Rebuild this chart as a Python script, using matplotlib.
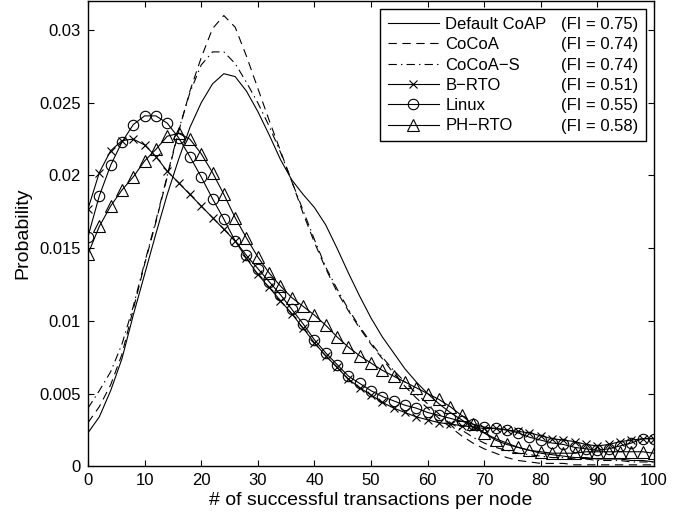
import matplotlib
matplotlib.use("Agg")
import matplotlib.pyplot as plt
from matplotlib.lines import Line2D
import numpy as np

plt.rcParams['font.family'] = ['Liberation Sans', 'DejaVu Sans']
plt.rcParams['lines.scale_dashes'] = False

x = list(range(0, 101, 2))

default_coap = [0.0023, 0.0034, 0.0052, 0.0074, 0.0104, 0.0132, 0.0160, 0.0187, 0.0211, 0.0233,
                0.0250, 0.0263, 0.0270, 0.0268, 0.0258, 0.0244, 0.0228, 0.0211, 0.0197, 0.0187,
                0.0178, 0.0166, 0.0150, 0.0133, 0.0117, 0.0102, 0.0089, 0.0078, 0.0067, 0.0058,
                0.0050, 0.0043, 0.0037, 0.0032, 0.0027, 0.0023, 0.0019, 0.0016, 0.0013, 0.0011,
                0.0009, 0.0008, 0.0007, 0.0006, 0.0006, 0.0005, 0.0005, 0.0005, 0.0004, 0.0004,
                0.0003]

cocoa = [0.0030, 0.0041, 0.0056, 0.0077, 0.0108, 0.0139, 0.0168, 0.0199, 0.0230, 0.0258,
         0.0281, 0.0301, 0.0310, 0.0302, 0.0282, 0.0260, 0.0238, 0.0217, 0.0196, 0.0174,
         0.0154, 0.0136, 0.0120, 0.0107, 0.0095, 0.0084, 0.0074, 0.0064, 0.0055, 0.0047,
         0.0040, 0.0033, 0.0027, 0.0021, 0.0016, 0.0012, 0.0009, 0.0006, 0.0004, 0.0003,
         0.0002, 0.0002, 0.0002, 0.0001, 0.0001, 0.0001, 0.0001, 0.0001, 0.0001, 0.0001,
         0.0001]

cocoa_s = [0.0040, 0.0052, 0.0065, 0.0084, 0.0110, 0.0140, 0.0169, 0.0200, 0.0231, 0.0257,
           0.0276, 0.0285, 0.0285, 0.0277, 0.0264, 0.0250, 0.0234, 0.0216, 0.0196, 0.0176,
           0.0156, 0.0137, 0.0122, 0.0108, 0.0096, 0.0085, 0.0075, 0.0066, 0.0058, 0.0050,
           0.0043, 0.0036, 0.0030, 0.0025, 0.0020, 0.0016, 0.0013, 0.0011, 0.0009, 0.0008,
           0.0007, 0.0006, 0.0006, 0.0005, 0.0005, 0.0004, 0.0004, 0.0004, 0.0003, 0.0003,
           0.0003]

b_rto = [0.0177, 0.0202, 0.0217, 0.0224, 0.0225, 0.0221, 0.0213, 0.0203, 0.0195, 0.0187,
         0.0179, 0.0171, 0.0163, 0.0155, 0.0143, 0.0132, 0.0123, 0.0114, 0.0105, 0.0095,
         0.0085, 0.0076, 0.0068, 0.0060, 0.0054, 0.0049, 0.0044, 0.0040, 0.0037, 0.0034,
         0.0032, 0.0030, 0.0029, 0.0028, 0.0027, 0.0026, 0.0026, 0.0025, 0.0024, 0.0023,
         0.0021, 0.0019, 0.0018, 0.0017, 0.0015, 0.0014, 0.0015, 0.0017, 0.0018, 0.0019,
         0.0019]

linux = [0.0158, 0.0186, 0.0207, 0.0223, 0.0235, 0.0241, 0.0241, 0.0236, 0.0226, 0.0213,
         0.0199, 0.0184, 0.0170, 0.0155, 0.0145, 0.0136, 0.0127, 0.0118, 0.0108, 0.0098,
         0.0087, 0.0078, 0.0070, 0.0062, 0.0057, 0.0052, 0.0048, 0.0045, 0.0042, 0.0040,
         0.0037, 0.0035, 0.0033, 0.0031, 0.0029, 0.0027, 0.0026, 0.0025, 0.0023, 0.0020,
         0.0018, 0.0016, 0.0015, 0.0013, 0.0012, 0.0011, 0.0012, 0.0014, 0.0016, 0.0019,
         0.0019]

ph_rto = [0.0146, 0.0165, 0.0179, 0.0190, 0.0199, 0.0210, 0.0218, 0.0227, 0.0229, 0.0225,
          0.0215, 0.0202, 0.0187, 0.0171, 0.0157, 0.0144, 0.0133, 0.0124, 0.0116, 0.0110,
          0.0104, 0.0097, 0.0089, 0.0082, 0.0076, 0.0071, 0.0066, 0.0062, 0.0058, 0.0054,
          0.0050, 0.0046, 0.0041, 0.0035, 0.0029, 0.0023, 0.0018, 0.0015, 0.0013, 0.0011,
          0.0010, 0.0009, 0.0009, 0.0009, 0.0010, 0.0010, 0.0010, 0.0010, 0.0010, 0.0010,
          0.0009]

names = ["Default CoAP", "CoCoA", "CoCoA\u2212S", "B\u2212RTO", "Linux", "PH\u2212RTO"]
fi_labels = ["(FI = 0.75)", "(FI = 0.74)", "(FI = 0.74)", "(FI = 0.51)", "(FI = 0.55)", "(FI = 0.58)"]

yticks = [0, 0.005, 0.01, 0.015, 0.02, 0.025, 0.03]
ytick_labels = ["0", "0.005", "0.01", "0.015", "0.02", "0.025", "0.03"]
xticks = [0, 10, 20, 30, 40, 50, 60, 70, 80, 90, 100]

fig = plt.figure(figsize=(6.94, 5.16), dpi=100)
ax = fig.add_axes([88 / 694, 1 - 466.3 / 516, (654 - 88) / 694, (465.3) / 516])

lw = 0.8
h1, = ax.plot(x, default_coap, color='black', lw=lw, linestyle='-')
h2, = ax.plot(x, cocoa, color='black', lw=lw, linestyle=(0, (6, 4)))
h3, = ax.plot(x, cocoa_s, color='black', lw=lw, linestyle=(0, (6, 3, 1, 3)))
h4, = ax.plot(x, b_rto, color='black', lw=lw, marker='x', markersize=6, markeredgewidth=0.8)
h5, = ax.plot(x, linux, color='black', lw=lw, marker='o', markersize=7.5, markerfacecolor='none', markeredgewidth=0.8)
h6, = ax.plot(x, ph_rto, color='black', lw=lw, marker='^', markersize=8, markerfacecolor='none', markeredgewidth=0.8)

ax.set_xlim(0, 100)
ax.set_ylim(0, 0.032)
ax.set_xticks(xticks)
ax.set_xticklabels([str(v) for v in xticks])
ax.set_yticks(yticks)
ax.set_yticklabels(ytick_labels)
ax.tick_params(direction='in', top=True, right=True, length=4, width=0.8, labelsize=12, pad=5)
for s in ax.spines.values():
    s.set_linewidth(1.0)

ax.set_xlabel("# of successful transactions per node", fontsize=14, labelpad=3)
ax.set_ylabel("Probability", fontsize=14, labelpad=6)

blank = [Line2D([], [], linestyle='none') for _ in fi_labels]
handles = [h1, h2, h3, h4, h5, h6] + blank
labels = names + fi_labels
leg = ax.legend(handles, labels, ncol=2, loc='upper right', fontsize=12,
                handlelength=3.1, handletextpad=0.36, columnspacing=-2.6,
                labelspacing=0.32, borderpad=0.45, borderaxespad=0.5,
                fancybox=False, edgecolor='black', framealpha=1)
leg.get_frame().set_linewidth(1.0)

fig.savefig("out.png", dpi=100)
